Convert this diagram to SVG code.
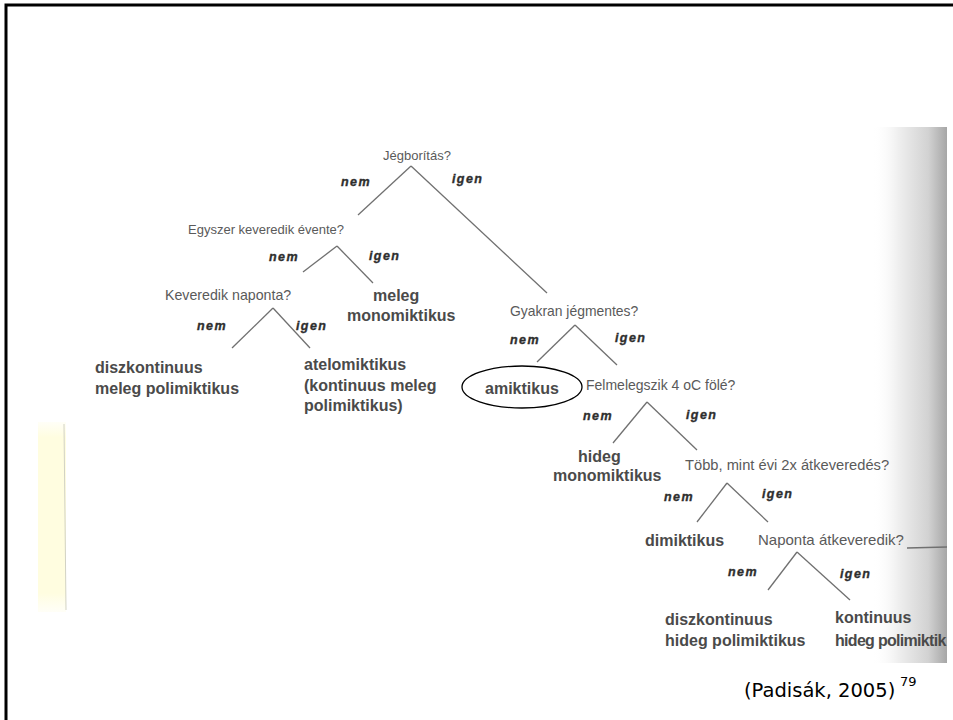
<svg xmlns="http://www.w3.org/2000/svg" width="953" height="720" viewBox="0 0 953 720">
<defs>
<linearGradient id="shade" x1="0" y1="0" x2="1" y2="0">
<stop offset="0" stop-color="#ffffff" stop-opacity="0"/>
<stop offset="0.35" stop-color="#efefef" stop-opacity="1"/>
<stop offset="0.75" stop-color="#d2d2d2" stop-opacity="1"/>
<stop offset="1" stop-color="#a6a6a6" stop-opacity="1"/>
</linearGradient>
<linearGradient id="yel" x1="0" y1="0" x2="0" y2="1">
<stop offset="0" stop-color="#fffde4" stop-opacity="0.3"/>
<stop offset="0.08" stop-color="#fffde0"/>
<stop offset="0.9" stop-color="#fffde0"/>
<stop offset="1" stop-color="#fffde4" stop-opacity="0.3"/>
</linearGradient>
<clipPath id="photo"><rect x="30" y="127" width="917" height="536"/></clipPath>
<style>
.q{font-family:"Liberation Sans",Arial,sans-serif;font-size:13px;fill:#5a5a5a}
.b{font-family:"Liberation Sans",Arial,sans-serif;font-size:16px;font-weight:bold;fill:#4a4a4a}
.l{font-family:"Liberation Sans",Arial,sans-serif;font-size:12.5px;font-weight:bold;font-style:italic;fill:#2e2e2e;stroke:#2e2e2e;stroke-width:0.35;letter-spacing:1.4px}
.c{stroke:#707070;stroke-width:1.3;fill:none}
.cite{font-family:"DejaVu Sans",Verdana,sans-serif;fill:#000}
</style>
</defs>
<rect x="0" y="0" width="953" height="720" fill="#fff"/>
<rect x="6" y="5" width="970" height="740" fill="none" stroke="#000" stroke-width="3"/>
<g id="scan" clip-path="url(#photo)">
<rect x="30" y="127" width="917" height="536" fill="#fff"/>
<rect x="38" y="422" width="28" height="190" fill="url(#yel)"/>
<line x1="64" y1="424" x2="66" y2="610" stroke="#d2d2c4" stroke-width="1"/>
<rect x="872" y="127" width="75" height="536" fill="url(#shade)"/>
</g>
<g id="connectors" clip-path="url(#photo)">
<line class="c" x1="411" y1="166" x2="358" y2="215"/>
<line class="c" x1="411" y1="166" x2="547" y2="293"/>
<line class="c" x1="337" y1="246" x2="303" y2="272"/>
<line class="c" x1="337" y1="246" x2="373" y2="283"/>
<line class="c" x1="273" y1="308" x2="232" y2="348"/>
<line class="c" x1="273" y1="308" x2="310" y2="348"/>
<line class="c" x1="575" y1="325" x2="537" y2="362"/>
<line class="c" x1="575" y1="325" x2="617" y2="365"/>
<line class="c" x1="647" y1="402" x2="613" y2="443"/>
<line class="c" x1="647" y1="402" x2="697" y2="450"/>
<line class="c" x1="727" y1="483" x2="697" y2="522"/>
<line class="c" x1="727" y1="483" x2="768" y2="522"/>
<line class="c" x1="797" y1="552" x2="768" y2="590"/>
<line class="c" x1="797" y1="552" x2="850" y2="600"/>
<line class="c" x1="907" y1="548" x2="947" y2="547"/>
<g id="edge-labels">
<text class="l" x="341" y="186">nem</text>
<text class="l" x="452" y="183">igen</text>
<text class="l" x="269" y="261">nem</text>
<text class="l" x="369" y="260">igen</text>
<text class="l" x="197" y="330">nem</text>
<text class="l" x="296" y="330">igen</text>
<text class="l" x="510" y="344">nem</text>
<text class="l" x="615" y="342">igen</text>
<text class="l" x="583" y="420">nem</text>
<text class="l" x="686" y="419">igen</text>
<text class="l" x="664" y="501">nem</text>
<text class="l" x="762" y="498">igen</text>
<text class="l" x="728" y="576">nem</text>
<text class="l" x="840" y="578">igen</text>
</g>
</g>
<g>
<g id="n-jegboritas"><text class="q" x="383" y="160">Jégborítás?</text></g>
<g id="n-egyszer"><text class="q" x="188" y="234">Egyszer keveredik évente?</text></g>
<g id="n-keveredik"><text class="q" x="165" y="300" style="font-size:14.2px">Keveredik naponta?</text></g>
<g id="n-meleg-mono"><text class="b" x="373" y="301">meleg</text><text class="b" x="347" y="321">monomiktikus</text></g>
<g id="n-disz-meleg"><text class="b" x="95" y="373">diszkontinuus</text><text class="b" x="95" y="394">meleg polimiktikus</text></g>
<g id="n-atelo"><text class="b" x="304" y="370">atelomiktikus</text><text class="b" x="304" y="391">(kontinuus meleg</text><text class="b" x="304" y="411">polimiktikus)</text></g>
<g id="n-gyakran"><text class="q" x="510" y="316" style="font-size:13.9px">Gyakran jégmentes?</text></g>
<g id="n-amiktikus"><ellipse cx="522" cy="387" rx="60" ry="21" fill="none" stroke="#000" stroke-width="1.3"/><text class="b" x="485" y="394">amiktikus</text></g>
<g id="n-felmeleg"><text class="q" x="586" y="390" style="font-size:14px">Felmelegszik 4 oC fölé?</text></g>
<g id="n-hideg-mono"><text class="b" x="578" y="462">hideg</text><text class="b" x="553" y="481">monomiktikus</text></g>
<g id="n-tobb"><text class="q" x="685" y="470" style="font-size:14.7px">Több, mint évi 2x átkeveredés?</text></g>
<g id="n-dimiktikus"><text class="b" x="645" y="546">dimiktikus</text></g>
<g id="n-naponta"><text class="q" x="758" y="545" style="font-size:15px">Naponta átkeveredik?</text></g>
<g id="n-disz-hideg"><text class="b" x="665" y="625">diszkontinuus</text><text class="b" x="665" y="646">hideg polimiktikus</text></g>
<g id="n-kont-hideg"><text class="b" x="835" y="623">kontinuus</text><text class="b" x="835" y="646" style="letter-spacing:-0.7px">hideg polimiktik</text></g>
</g>
<g id="citation"><text class="cite" x="744" y="697" font-size="19.5">(Padisák, 2005)</text><text class="cite" x="900" y="686" font-size="13">79</text></g>
</svg>
